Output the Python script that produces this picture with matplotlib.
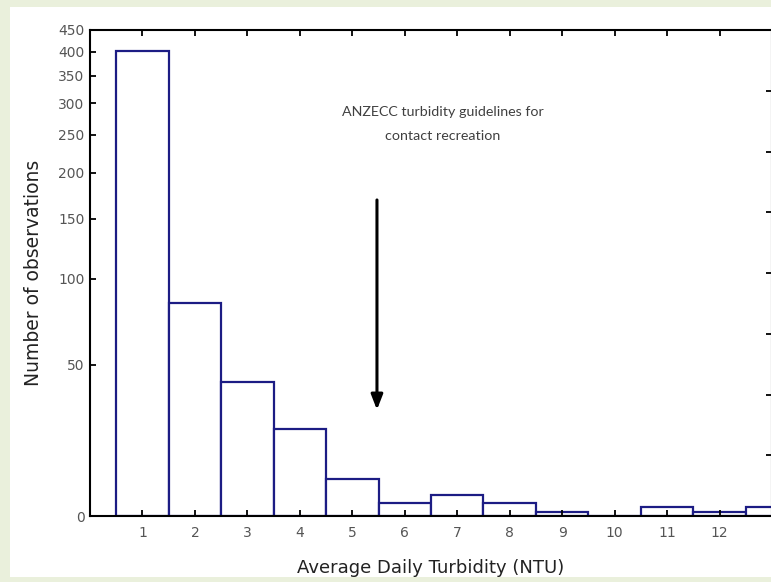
import matplotlib
matplotlib.use("Agg")
import matplotlib.pyplot as plt
from matplotlib.patches import Rectangle
import numpy as np

# Histogram of average daily turbidity (counts)
turbidity_bins = [1, 2, 3, 4, 5, 6, 7, 8, 9, 10, 11, 12, 13]
observations = [401, 84, 42, 24, 9, 3, 5, 3, 1, 0, 2, 1, 2]

y_ticks = [0, 50, 100, 150, 200, 250, 300, 350, 400, 450]
x_ticks = [1, 2, 3, 4, 5, 6, 7, 8, 9, 10, 11, 12]

# arrow pointing at the guideline value
guide_x = 5.47
arrow_top = 169
arrow_tip = 31

# y axis is a log(count + 45) scale in the original chart
OFFSET = 45.0
def fwd(v):
    return np.log(np.maximum(v, -OFFSET + 1e-6) + OFFSET)
def inv(u):
    return np.exp(u) - OFFSET

W, H = 771, 582
fig = plt.figure(figsize=(W / 100, H / 100), dpi=100)
fig.patch.set_facecolor("#eaf0dc")
fig.patches.append(Rectangle((10 / W, 1 - 577 / H), 1, (577 - 7) / H,
                             transform=fig.transFigure, facecolor="white",
                             edgecolor="none", zorder=-10))

ax = fig.add_axes([90 / W, 1 - 516 / H, (772 - 90) / W, 486 / H])
ax.set_facecolor("white")

ax.bar(turbidity_bins, observations, width=1.0, facecolor="white",
       edgecolor="#1c1c84", linewidth=1.6, zorder=1)

ax.set_yscale("function", functions=(fwd, inv))
ax.set_ylim(0, 450)
ax.set_xlim(0, 13)
ax.set_yticks(y_ticks)
ax.set_xticks(x_ticks)
ax.set_yticklabels([str(t) for t in y_ticks])
ax.minorticks_off()

for s in ax.spines.values():
    s.set_linewidth(1.5)
    s.set_color("black")

ax.tick_params(direction="in", length=4, width=1.3, colors="black",
               labelcolor="#555555", labelsize=10, top=True, right=False)
ax.tick_params(axis="x", pad=7)
ax.tick_params(axis="y", pad=4)

# right-hand axis only shows inward ticks (labels fall off the cropped image)
ax2 = ax.twinx()
ax2.set_ylim(0, 8)
ax2.set_yticks(range(9))
ax2.tick_params(direction="in", length=4, width=1.3, labelright=False)
for s in ax2.spines.values():
    s.set_visible(False)

ax.set_xlabel("Average Daily Turbidity (NTU)", fontsize=13, color="#222222",
              labelpad=14)
ax.set_ylabel("Number of observations", fontsize=13.5, color="#222222",
              labelpad=11)

ax.annotate("", xy=(guide_x, arrow_tip), xytext=(guide_x, arrow_top),
            arrowprops=dict(arrowstyle="-|>,head_length=0.9,head_width=0.35",
                            color="black", lw=2.2, shrinkA=0, shrinkB=0))

fig.text(443 / W, 1 - 123.5 / H,
         "ANZECC turbidity guidelines for\ncontact recreation",
         ha="center", va="center", fontsize=10.3, family="Lato",
         color="#404040", linespacing=2.2)

fig.savefig("out.png", dpi=100, facecolor=fig.get_facecolor())
